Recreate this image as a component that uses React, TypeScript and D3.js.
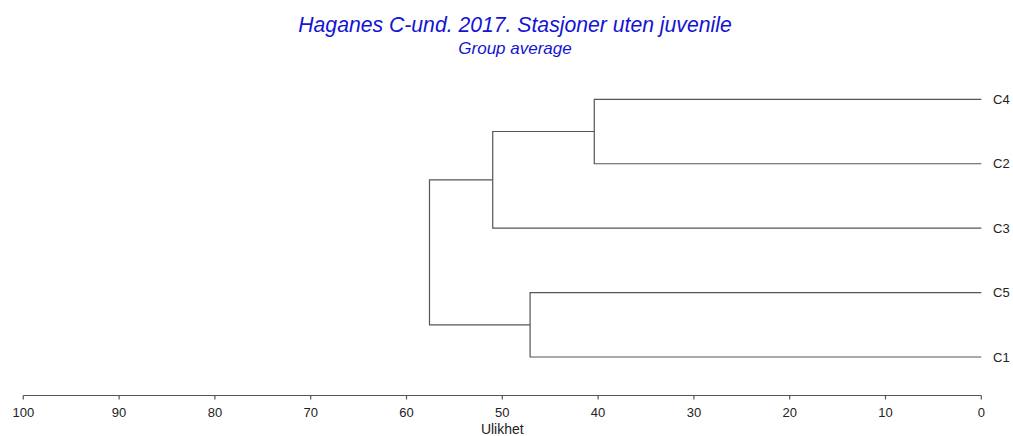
import React from "react";
import * as d3 from "d3";

const leaves = ["C4", "C2", "C3", "C5", "C1"];
// merges: node id, left child, right child, dissimilarity
const mergeIds = ["A", "B", "D", "R"];
const mergeLeft = ["C4", "C5", "A", "D"];
const mergeRight = ["C2", "C1", "C3", "B"];
const mergeHeights = [40.4, 47.1, 51.0, 57.6];
const ticks = [100, 90, 80, 70, 60, 50, 40, 30, 20, 10, 0];
const title = "Haganes C-und. 2017. Stasjoner uten juvenile";
const subtitle = "Group average";
const axisLabel = "Ulikhet";

const W = 1013, H = 436;
const FONT = "Arial, 'Liberation Sans', sans-serif";

export default function App() {
  const x = d3.scaleLinear().domain([100, 0]).range([23.3, 981.3]);
  const y = d3.scalePoint<string>().domain(leaves).range([99.3, 357]);

  const pos: Record<string, { x: number; y: number }> = {};
  leaves.forEach((l) => (pos[l] = { x: x(0), y: y(l)! }));
  const lines: string[] = [];
  mergeIds.forEach((id, i) => {
    const a = pos[mergeLeft[i]], b = pos[mergeRight[i]];
    const hx = x(mergeHeights[i]);
    lines.push(`M${a.x},${a.y}H${hx}V${b.y}H${b.x}`);
    pos[id] = { x: hx, y: (a.y + b.y) / 2 };
  });

  const axisY = 395.5;
  return (
    <svg width={W} height={H} style={{ position: "absolute", left: 0, top: 0, background: "#fff" }}>
      <text x={515} y={32} textAnchor="middle" fontFamily={FONT} fontStyle="italic" fontSize={21.2} fill="#1414d2">{title}</text>
      <text x={515} y={54} textAnchor="middle" fontFamily={FONT} fontStyle="italic" fontSize={17} fill="#1414d2">{subtitle}</text>
      <g fill="none" stroke="#555" strokeWidth={1.2}>
        {lines.map((d, i) => <path key={i} d={d} />)}
      </g>
      {leaves.map((l) => (
        <text key={l} x={993} y={y(l)!} dy="0.36em" fontFamily={FONT} fontSize={13} fill="#222">{l}</text>
      ))}
      <g>
        <line x1={x(100)} x2={x(0)} y1={axisY} y2={axisY} stroke="#555" strokeWidth={1.2} />
        {ticks.map((t) => (
          <g key={t}>
            <line x1={x(t)} x2={x(t)} y1={axisY} y2={axisY + 4} stroke="#555" strokeWidth={1.2} />
            <text x={x(t)} y={417} textAnchor="middle" fontFamily={FONT} fontSize={13} fill="#222">{t}</text>
          </g>
        ))}
        <text x={(x(100) + x(0)) / 2} y={434} textAnchor="middle" fontFamily={FONT} fontSize={14} fill="#222">{axisLabel}</text>
      </g>
    </svg>
  );
}
